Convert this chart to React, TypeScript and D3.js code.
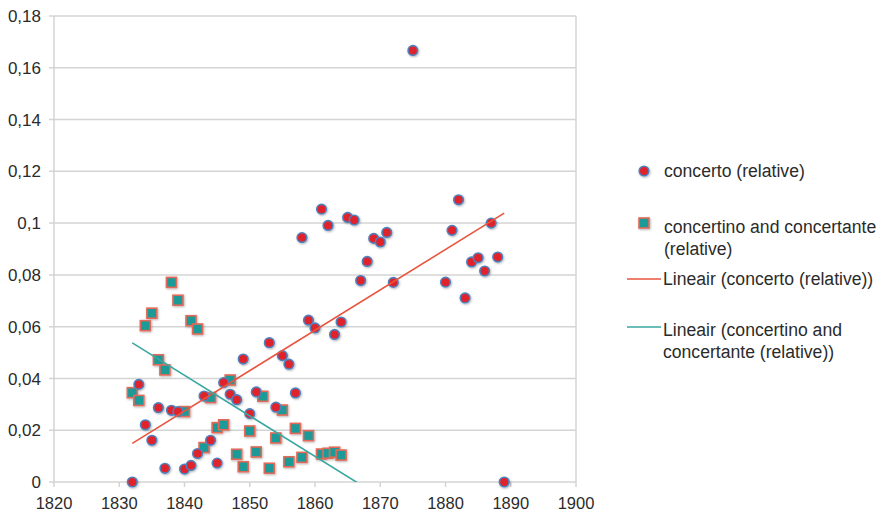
import React from "react";
import * as d3 from "d3";

// concerto (relative)
const concertoYears = [1832, 1833, 1834, 1835, 1836, 1837, 1838, 1839, 1840, 1841, 1842, 1843, 1844, 1845, 1846, 1847, 1848, 1849, 1850, 1851, 1853, 1854, 1855, 1856, 1857, 1858, 1859, 1860, 1861, 1862, 1863, 1864, 1865, 1866, 1867, 1868, 1869, 1870, 1871, 1872, 1875, 1880, 1881, 1882, 1883, 1884, 1885, 1886, 1887, 1888, 1889];
const concertoValues = [0, 0.0377, 0.0221, 0.0161, 0.0287, 0.0053, 0.0277, 0.0272, 0.005, 0.0064, 0.011, 0.0332, 0.0161, 0.0073, 0.0384, 0.0339, 0.0318, 0.0475, 0.0264, 0.0348, 0.0538, 0.0289, 0.0488, 0.0455, 0.0344, 0.0944, 0.0625, 0.0595, 0.1054, 0.0991, 0.057, 0.0618, 0.1022, 0.1012, 0.0778, 0.0852, 0.0941, 0.0927, 0.0964, 0.0771, 0.1667, 0.0772, 0.0972, 0.109, 0.0711, 0.085, 0.0866, 0.0815, 0.1, 0.0869, 0];

// concertino and concertante (relative)
const concertinoYears = [1832, 1833, 1834, 1835, 1836, 1837, 1838, 1839, 1840, 1841, 1842, 1843, 1844, 1845, 1846, 1847, 1848, 1849, 1850, 1851, 1852, 1853, 1854, 1855, 1856, 1857, 1858, 1859, 1861, 1862, 1863, 1864];
const concertinoValues = [0.0345, 0.0315, 0.0604, 0.0652, 0.0472, 0.0433, 0.0771, 0.0702, 0.0272, 0.0623, 0.0591, 0.0133, 0.0326, 0.021, 0.0221, 0.0394, 0.0107, 0.0059, 0.0197, 0.0116, 0.0331, 0.0053, 0.017, 0.0278, 0.0078, 0.0207, 0.0095, 0.0179, 0.0108, 0.0111, 0.0115, 0.0104];

const xTicks = [1820, 1830, 1840, 1850, 1860, 1870, 1880, 1890, 1900];
const yTicks = [0, 0.02, 0.04, 0.06, 0.08, 0.1, 0.12, 0.14, 0.16, 0.18];
const yTickLabels = ["0", "0,02", "0,04", "0,06", "0,08", "0,1", "0,12", "0,14", "0,16", "0,18"];

const seriesNames = ["concerto (relative)", "concertino and concertante", "(relative)"];
const trendNames = ["Lineair (concerto (relative))", "Lineair (concertino and", "concertante (relative))"];

function linreg(xs: number[], ys: number[]) {
  const mx = d3.mean(xs) as number;
  const my = d3.mean(ys) as number;
  let num = 0, den = 0;
  xs.forEach((xv, i) => {
    num += (xv - mx) * (ys[i] - my);
    den += (xv - mx) * (xv - mx);
  });
  const m = num / den;
  return (xv: number) => my + m * (xv - mx);
}

const FONT = "'Liberation Sans', Arial, Helvetica, sans-serif";

export default function App() {
  const W = 882, H = 516;
  const x = d3.scaleLinear().domain([1820, 1900]).range([54, 576]);
  const y = d3.scaleLinear().domain([0, 0.18]).range([482, 16]);

  const concerto = concertoYears.map((yr, i) => ({ yr, v: concertoValues[i] }));
  const concertino = concertinoYears.map((yr, i) => ({ yr, v: concertinoValues[i] }));

  const allYears = concertoYears.concat(concertinoYears);
  const [xMin, xMax] = d3.extent(allYears) as [number, number];
  const f1 = linreg(concertoYears, concertoValues);
  const f2 = linreg(concertinoYears, concertinoValues);
  const trend = (f: (v: number) => number) =>
    d3.line<number>().x((d) => x(d)).y((d) => y(f(d)))([xMin, xMax]) as string;

  const gridColor = "#d4d4d4";
  const red = "#e0202b";
  const blue = "#4f81bd";
  const teal = "#1e9a98";
  const salmon = "#e36a58";
  const redLine = "#e8553f";
  const tealLine = "#3aa7a1";
  const textColor = "#2b2b2b";

  return (
    <svg width={W} height={H} style={{ position: "absolute", left: 0, top: 0, background: "#fff" }} fontFamily={FONT}>
      <defs>
        <clipPath id="plotClip">
          <rect x={x(1820)} y={y(0.18)} width={x(1900) - x(1820)} height={y(0) - y(0.18)} />
        </clipPath>
        <filter id="shadow" x="-50%" y="-50%" width="200%" height="200%">
          <feDropShadow dx="0.8" dy="1" stdDeviation="1" floodColor="#000" floodOpacity="0.3" />
        </filter>
      </defs>
      {/* gridlines */}
      {yTicks.map((t) => (
        <line key={"g" + t} x1={x(1820) - 5} x2={x(1900)} y1={y(t)} y2={y(t)} stroke={gridColor} strokeWidth={1.5} />
      ))}
      <line x1={x(1820)} x2={x(1820)} y1={y(0.18)} y2={y(0)} stroke={gridColor} strokeWidth={1.5} />
      <line x1={x(1900)} x2={x(1900)} y1={y(0.18)} y2={y(0)} stroke={gridColor} strokeWidth={1.5} />
      {xTicks.map((t) => (
        <line key={"xt" + t} x1={x(t)} x2={x(t)} y1={y(0)} y2={y(0) + 5} stroke={gridColor} strokeWidth={1.5} />
      ))}
      {/* y tick labels */}
      {yTicks.map((t, i) => (
        <text key={"yl" + t} x={41} y={y(t)} dy="0.36em" textAnchor="end" fontSize={17} fill={textColor}>
          {yTickLabels[i]}
        </text>
      ))}
      {xTicks.map((t) => (
        <text key={"xl" + t} x={x(t)} y={y(0) + 27} textAnchor="middle" fontSize={16.5} fill={textColor}>
          {t}
        </text>
      ))}
      {/* markers */}
      <g filter="url(#shadow)">
        {concertino.map((d, i) => (
          <rect key={"s" + i} x={x(d.yr) - 5} y={y(d.v) - 5} width={10} height={10} fill={teal} stroke={salmon} strokeWidth={1.6} />
        ))}
        {concerto.map((d, i) => (
          <circle key={"c" + i} cx={x(d.yr)} cy={y(d.v)} r={4.8} fill={red} stroke={blue} strokeWidth={1.6} />
        ))}
      </g>
      {/* trendlines */}
      <g clipPath="url(#plotClip)">
        <path d={trend(f1)} fill="none" stroke={redLine} strokeWidth={1.6} />
        <path d={trend(f2)} fill="none" stroke={tealLine} strokeWidth={1.6} />
      </g>
      {/* legend */}
      <g fontSize={17.6} fill={textColor}>
        <circle cx={644} cy={171} r={4.8} fill={red} stroke={blue} strokeWidth={1.6} filter="url(#shadow)" />
        <text x={664} y={171} dy="0.35em">{seriesNames[0]}</text>
        <rect x={639} y={218} width={10} height={10} fill={teal} stroke={salmon} strokeWidth={1.6} filter="url(#shadow)" />
        <text x={664} y={227} dy="0.35em">{seriesNames[1]}</text>
        <text x={664} y={249} dy="0.35em">{seriesNames[2]}</text>
        <line x1={627} x2={661} y1={279} y2={279} stroke={redLine} strokeWidth={1.6} />
        <text x={663} y={279} dy="0.35em">{trendNames[0]}</text>
        <line x1={627} x2={661} y1={327} y2={327} stroke={tealLine} strokeWidth={1.6} />
        <text x={663} y={330} dy="0.35em">{trendNames[1]}</text>
        <text x={663} y={352} dy="0.35em">{trendNames[2]}</text>
      </g>
    </svg>
  );
}
